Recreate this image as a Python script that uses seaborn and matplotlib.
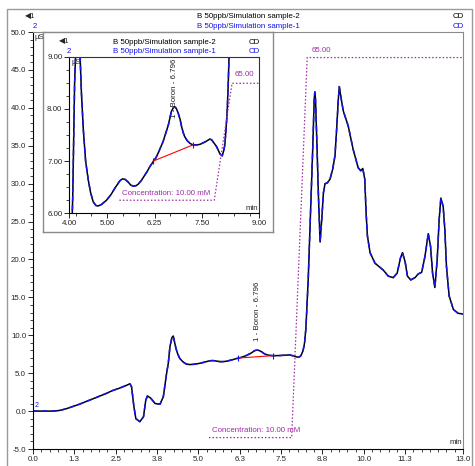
import matplotlib
matplotlib.use("Agg")
import matplotlib.pyplot as plt
import seaborn as sns
from matplotlib.ticker import FixedLocator, MultipleLocator, FormatStrFormatter
from matplotlib.patches import Rectangle

sns.set_style("white")
plt.rcParams["font.family"] = ["Liberation Sans", "DejaVu Sans"]
plt.rcParams["font.size"] = 5.7

# Chromatogram: retention time (min) and conductivity (µS)
time_min = [0.00, 0.30, 0.60, 0.80, 1.00, 1.20, 1.40, 1.60, 1.80, 2.00, 2.20, 2.40,
            2.60, 2.80, 2.93, 2.98, 3.05, 3.11, 3.23, 3.34, 3.41, 3.46, 3.56, 3.69,
            3.84, 3.94, 4.04, 4.09, 4.14, 4.20, 4.24, 4.28, 4.32, 4.37, 4.43, 4.50,
            4.56, 4.63, 4.70, 4.76, 4.85, 4.98, 5.10, 5.20, 5.33, 5.40, 5.47, 5.55,
            5.62, 5.69, 5.76, 5.82, 5.90, 5.99, 6.06, 6.12, 6.21, 6.28, 6.34, 6.40,
            6.47, 6.54, 6.61, 6.66, 6.69, 6.74, 6.78, 6.82, 6.87, 6.92, 6.96, 7.00,
            7.04, 7.11, 7.18, 7.26, 7.35, 7.44, 7.53, 7.61, 7.70, 7.75, 7.79, 7.84,
            7.88, 7.93, 7.97, 8.03, 8.07, 8.10, 8.13, 8.16, 8.19, 8.21, 8.25, 8.32,
            8.39, 8.46, 8.50, 8.52, 8.54, 8.58, 8.63, 8.68, 8.73, 8.78, 8.83, 8.90,
            8.98, 9.06, 9.13, 9.18, 9.23, 9.26, 9.31, 9.38, 9.53, 9.68, 9.83, 9.91,
            9.97, 10.03, 10.07, 10.11, 10.19, 10.34, 10.59, 10.74, 10.89, 11.01, 11.11,
            11.17, 11.25, 11.32, 11.42, 11.55, 11.65, 11.75, 11.85, 11.95, 12.02, 12.08,
            12.15, 12.22, 12.28, 12.33, 12.40, 12.45, 12.50, 12.58, 12.71, 12.85, 13.00]
sample2_us = [0.00, 0.00, 0.00, 0.08, 0.30, 0.60, 0.90, 1.25, 1.60, 1.95, 2.30, 2.70,
              3.00, 3.35, 3.60, 3.20, 0.60, -1.00, -1.40, -0.75, 1.45, 2.00, 1.70, 1.00,
              0.90, 1.90, 5.00, 6.30, 8.50, 9.70, 9.90, 9.10, 8.30, 7.60, 7.00, 6.64,
              6.40, 6.22, 6.15, 6.14, 6.17, 6.25, 6.36, 6.48, 6.62, 6.66, 6.65, 6.60,
              6.54, 6.52, 6.53, 6.56, 6.63, 6.73, 6.81, 6.89, 6.99, 7.06, 7.15, 7.25,
              7.37, 7.53, 7.69, 7.85, 7.95, 8.02, 8.04, 8.01, 7.92, 7.80, 7.66, 7.55,
              7.47, 7.39, 7.34, 7.31, 7.31, 7.32, 7.35, 7.38, 7.42, 7.41, 7.37, 7.32,
              7.28, 7.20, 7.14, 7.10, 7.20, 7.31, 7.60, 7.92, 8.50, 9.00, 10.9, 17.3,
              26.2, 35.0, 41.0, 42.1, 41.2, 35.8, 28.3, 22.3, 25.3, 28.8, 30.0, 30.1,
              30.6, 31.9, 33.7, 37.2, 41.1, 42.8, 41.4, 39.6, 37.6, 34.5, 32.1, 31.7,
              32.0, 30.6, 26.2, 23.1, 20.9, 19.5, 18.6, 17.8, 17.6, 18.2, 20.2,
              20.9, 19.7, 17.8, 17.3, 17.6, 18.1, 18.3, 20.4, 23.4, 21.7, 18.2,
              16.3, 20.0, 25.3, 28.1, 27.0, 24.0, 19.1, 15.2, 13.4, 12.9, 12.8]
# sample-1 overlays sample-2 almost exactly
sample1_us = list(sample2_us)

# Eluent gradient (mM)
grad_time = [5.32, 7.82, 8.29, 13.0]
grad_conc = [10.0, 10.0, 65.0, 65.0]

# Boron peak integration baseline
base_time = [6.21, 7.26]
base_us = [7.00, 7.31]

main_xticks = [0, 1.25, 2.5, 3.75, 5.0, 6.25, 7.5, 8.75, 10.0, 11.25, 13.0]
main_xlabels = ["0.0", "1.3", "2.5", "3.8", "5.0", "6.3", "7.5", "8.8", "10.0", "11.3", "13.0"]
inset_xticks = [4.0, 5.0, 6.25, 7.5, 9.0]
inset_xlabels = ["4.00", "5.00", "6.25", "7.50", "9.00"]

BLUE = "#1414F0"
MAG = "#A02CA8"
W, H = 475, 466


def fx(px):
    return px / W


def fy(py):
    return 1 - py / H


fig = plt.figure(figsize=(4.75, 4.66), dpi=100)
fig.patches.append(Rectangle((fx(7), -0.01), fx(465), fy(9) + 0.01, transform=fig.transFigure,
                             fill=False, ec="#9a9a9a", lw=1.0))

# headers
for row, (col, name) in enumerate([("black", "B 50ppb/Simulation sample-2"), (BLUE, "B 50ppb/Simulation sample-1")]):
    y = fy(17 + row * 10)
    fig.text(fx(248), y, name, color=col, ha="center", va="center")
    fig.text(fx(464), y, "CD", color=col, ha="right", va="center")
fig.text(fx(25), fy(17), "◀1", ha="left", va="center")
fig.text(fx(33), fy(27), "2", color=BLUE, ha="left", va="center")

ax = fig.add_axes([fx(33), fy(449), fx(430), (449 - 32) / H])
ax.set_zorder(1)


def style_axes(a, xlim, ylim, xt, xl, ymaj, ymin, yfmt, xminor):
    a.set_xlim(*xlim)
    a.set_ylim(*ylim)
    a.xaxis.set_major_locator(FixedLocator(xt))
    a.set_xticklabels(xl)
    a.xaxis.set_minor_locator(FixedLocator(xminor))
    a.yaxis.set_major_locator(MultipleLocator(ymaj))
    a.yaxis.set_minor_locator(MultipleLocator(ymin))
    a.yaxis.set_major_formatter(FormatStrFormatter(yfmt))
    a.tick_params(which="major", direction="out", length=3.5, width=0.7, pad=1.5, labelsize=5.7)
    a.tick_params(which="minor", direction="out", length=2, width=0.6)
    a.tick_params(axis="x", bottom=True, which="both")
    a.tick_params(axis="y", left=True, which="both")
    for s in ["left", "bottom"]:
        a.spines[s].set_color("black")
        a.spines[s].set_linewidth(0.8)
    for s in ["top", "right"]:
        a.spines[s].set_color("#8a8a8a")
        a.spines[s].set_linewidth(0.8)
    a.set_xlabel("")
    a.set_ylabel("")


def draw_traces(a):
    sns.lineplot(x=time_min, y=sample2_us, ax=a, color="black", lw=1.1, estimator=None, sort=False)
    sns.lineplot(x=time_min, y=sample1_us, ax=a, color=BLUE, lw=1.1, estimator=None, sort=False,
                 linestyle=(0, (3.5, 2.5)))
    sns.lineplot(x=base_time, y=base_us, ax=a, color="red", lw=0.8, estimator=None, sort=False)
    a.plot(base_time, base_us, ls="none", marker="|", ms=4.5, mew=0.8, color=BLUE)


draw_traces(ax)
main_minor = [i * 0.25 for i in range(53)]
style_axes(ax, (0, 13), (-5, 50), main_xticks, main_xlabels, 5, 1, "%.1f", main_minor)
ax.text(0.003, 0.995, "µS", transform=ax.transAxes, ha="left", va="top")
ax.text(0.998, 0.006, "min", transform=ax.transAxes, ha="right", va="bottom")
ax.text(0.06, 0.3, "2", color=BLUE, fontsize=5, ha="left", va="bottom")
ax.text(6.78, 9.2, "1 - Boron - 6.796", rotation=90, ha="center", va="bottom", color="#222222")
ax.text(5.42, -2.6, "Concentration: 10.00 mM", color=MAG, ha="left", va="center")
ax.text(8.43, 47.6, "65.00", color=MAG, ha="left", va="center")

ax_g = ax.twinx()
ax_g.set_zorder(2)
sns.lineplot(x=grad_time, y=grad_conc, ax=ax_g, color=MAG, lw=0.9, estimator=None, sort=False,
             linestyle=(0, (1.2, 1.6)))
ax_g.set_ylim(8.35, 68.7)
ax_g.set_axis_off()

# inset zoom
ax_box = fig.add_axes([fx(43), fy(232), fx(230), 200 / H])
ax_box.set_zorder(5)
ax_box.set_xticks([])
ax_box.set_yticks([])
for s in ax_box.spines.values():
    s.set_color("#8a8a8a")
    s.set_linewidth(1.0)
for row, (col, name) in enumerate([("black", "B 50ppb/Simulation sample-2"), (BLUE, "B 50ppb/Simulation sample-1")]):
    y = 1 - (10 + row * 9.5) / 200
    ax_box.text((164 - 43) / 230, y, name, color=col, ha="center", va="center", transform=ax_box.transAxes)
    ax_box.text((260 - 43) / 230, y, "CD", color=col, ha="right", va="center", transform=ax_box.transAxes)
ax_box.text((59 - 43) / 230, 1 - 10 / 200, "◀1", ha="left", va="center", transform=ax_box.transAxes)
ax_box.text((67 - 43) / 230, 1 - 19.5 / 200, "2", color=BLUE, ha="left", va="center", transform=ax_box.transAxes)

ax_in = fig.add_axes([fx(69.3), fy(213.3), fx(189.7), 156.6 / H])
ax_in.set_zorder(6)
draw_traces(ax_in)
inset_minor = [3.75 + i * 1.25 / 3 for i in range(14)]
style_axes(ax_in, (4, 9), (6, 9), inset_xticks, inset_xlabels, 1, 0.25, "%.2f", inset_minor)
for s in ["top", "right"]:
    ax_in.spines[s].set_color("#333333")
ax_in.text(0.01, 0.985, "µS", transform=ax_in.transAxes, ha="left", va="top")
ax_in.text(0.998, 0.01, "min", transform=ax_in.transAxes, ha="right", va="bottom")
ax_in.text(6.78, 8.97, "1 - Boron - 6.796", rotation=90, ha="center", va="top", color="#222222",
           clip_on=True)
ax_in.text(5.39, 6.38, "Concentration: 10.00 mM", color=MAG, ha="left", va="center")
ax_in.text(8.36, 8.65, "65.00", color=MAG, ha="left", va="center")

ax_in_g = ax_in.twinx()
ax_in_g.set_zorder(7)
sns.lineplot(x=grad_time, y=grad_conc, ax=ax_in_g, color=MAG, lw=0.9, estimator=None, sort=False,
             linestyle=(0, (1.2, 1.6)))
ax_in_g.set_ylim(3.86, 77.5)
ax_in_g.set_xlim(4, 9)
ax_in_g.set_axis_off()

fig.savefig("out.png", dpi=100)
